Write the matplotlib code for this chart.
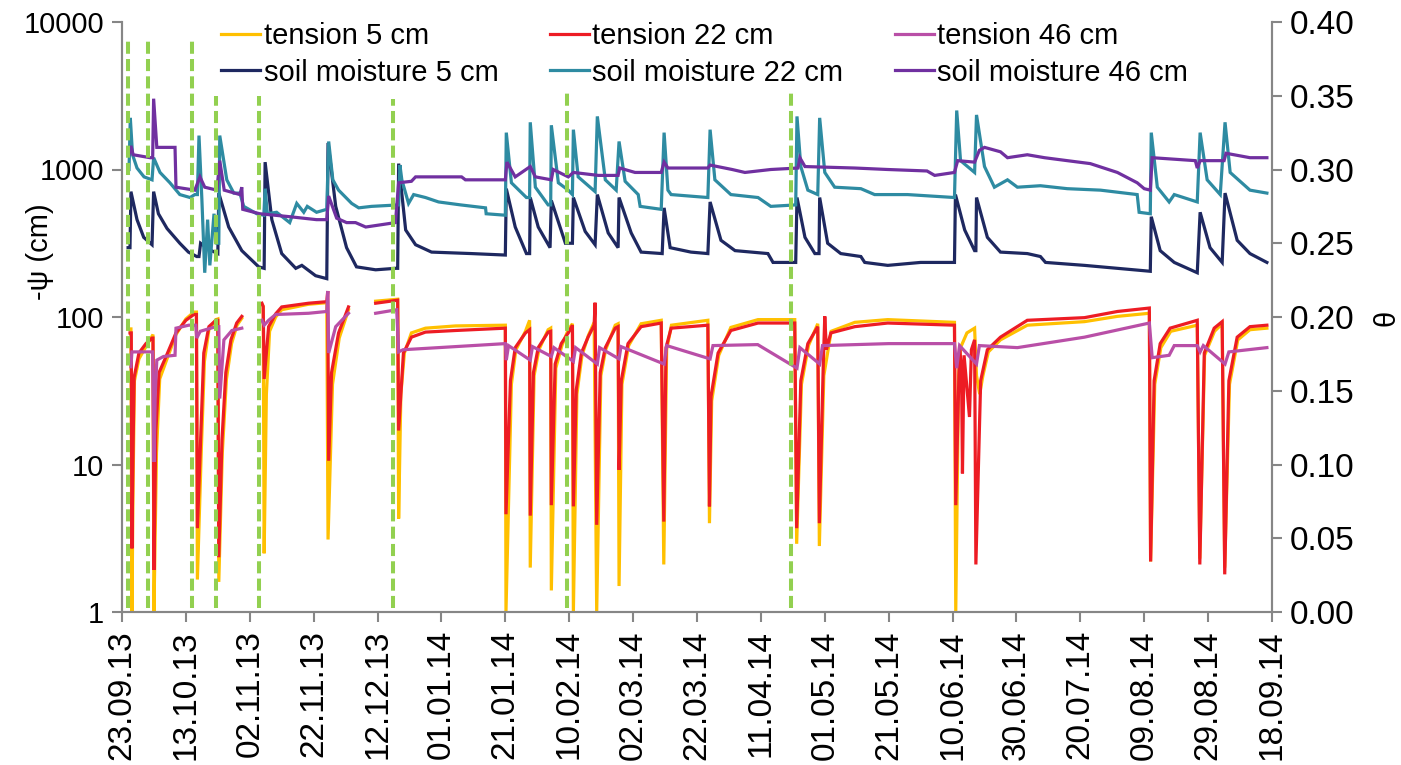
import numpy as np
import pandas as pd
import matplotlib
matplotlib.use("Agg")
import matplotlib.pyplot as plt

plt.rcParams['font.family'] = ['Liberation Sans', 'DejaVu Sans']

# day offsets counted from 23.09.13
start_date = "2013-09-23"
nan = np.nan

# soil moisture (theta), right axis
sm5 = [(1.9, 0.247), (2.5, 0.247), (2.8, 0.285), (4.7, 0.266), (6.8, 0.254), (9.4, 0.249),
       (9.9, 0.285), (11.4, 0.270), (14.1, 0.260), (18.1, 0.250), (20.8, 0.244), (23.4, 0.241),
       (24.1, 0.241), (24.6, 0.250), (27.0, 0.246), (30.0, 0.243), (30.3, 0.284), (33.4, 0.261),
       (37.5, 0.245), (42.8, 0.234), (44.5, 0.233), (44.8, 0.305), (46.9, 0.266), (50.0, 0.243),
       (54.4, 0.233), (56.3, 0.235), (60.6, 0.228), (64.1, 0.226), (64.5, 0.318), (66.9, 0.275),
       (70.3, 0.247), (73.4, 0.234), (79.4, 0.232), (85.6, 0.233), (86.3, 0.233), (86.6, 0.304),
       (88.8, 0.259), (91.9, 0.249), (96.9, 0.244), (109.4, 0.243), (120.0, 0.242), (120.3, 0.287),
       (123.1, 0.261), (126.6, 0.243), (127.6, 0.243), (127.8, 0.281), (130.3, 0.261), (134.0, 0.247),
       (134.4, 0.279), (138.8, 0.250), (141.0, 0.250), (141.3, 0.281), (145.0, 0.258), (148.1, 0.249),
       (148.8, 0.283), (152.2, 0.257), (155.3, 0.247), (155.6, 0.281), (159.4, 0.257), (162.5, 0.244),
       (169.1, 0.243), (169.7, 0.274), (171.6, 0.247), (178.1, 0.244), (183.4, 0.243), (184.1, 0.278),
       (187.5, 0.252), (191.9, 0.245), (202.2, 0.243), (203.8, 0.237), (210.9, 0.237), (211.3, 0.281),
       (213.8, 0.254), (216.9, 0.243), (218.2, 0.243), (218.4, 0.281), (220.9, 0.250), (225.0, 0.243),
       (231.3, 0.241), (232.5, 0.237), (239.7, 0.235), (250.0, 0.237), (260.6, 0.237), (260.9, 0.283),
       (263.8, 0.259), (266.9, 0.245), (267.3, 0.245), (267.5, 0.281), (270.9, 0.254), (275.0, 0.244),
       (283.4, 0.243), (287.5, 0.241), (289.1, 0.237), (301.3, 0.235), (311.6, 0.233), (321.9, 0.231),
       (322.2, 0.268), (325.0, 0.245), (329.4, 0.237), (336.6, 0.230), (337.5, 0.271), (340.6, 0.247),
       (344.4, 0.237), (345.3, 0.284), (349.1, 0.252), (353.1, 0.243), (358.4, 0.237)]

sm22 = [(2.2, 0.300), (2.6, 0.335), (3.3, 0.310), (4.7, 0.301), (6.9, 0.295), (9.4, 0.293),
        (9.9, 0.308), (11.9, 0.298), (15.0, 0.291), (18.1, 0.283), (21.3, 0.281), (22.8, 0.283),
        (23.6, 0.283), (24.1, 0.323), (25.0, 0.280), (25.9, 0.230), (26.8, 0.266), (27.5, 0.235),
        (28.8, 0.270), (29.7, 0.250), (30.3, 0.250), (30.6, 0.323), (32.8, 0.293), (35.0, 0.284),
        (36.9, 0.284), (38.1, 0.275), (42.2, 0.270), (44.4, 0.269), (44.8, 0.287), (45.5, 0.270),
        (48.4, 0.271), (52.5, 0.264), (54.7, 0.277), (56.9, 0.271), (58.0, 0.275), (60.9, 0.271),
        (64.1, 0.273), (64.7, 0.319), (66.0, 0.293), (67.8, 0.286), (71.9, 0.277), (74.1, 0.274),
        (78.1, 0.275), (86.6, 0.276), (87.0, 0.303), (87.6, 0.293), (89.7, 0.277), (91.3, 0.283),
        (95.0, 0.281), (99.1, 0.278), (106.0, 0.276), (113.8, 0.274), (114.0, 0.270), (120.0, 0.269),
        (120.3, 0.325), (121.9, 0.291), (126.6, 0.281), (127.6, 0.281), (127.8, 0.332), (129.4, 0.288),
        (133.4, 0.276), (134.2, 0.276), (134.4, 0.330), (136.6, 0.291), (139.7, 0.286), (141.0, 0.283),
        (141.3, 0.327), (142.8, 0.295), (148.1, 0.285), (148.8, 0.336), (151.3, 0.293), (154.7, 0.286),
        (155.6, 0.319), (157.5, 0.292), (161.6, 0.283), (162.2, 0.275), (168.8, 0.273), (169.7, 0.325),
        (170.9, 0.286), (171.9, 0.283), (183.4, 0.281), (184.1, 0.327), (185.6, 0.293), (190.6, 0.283),
        (199.1, 0.281), (203.1, 0.275), (210.9, 0.276), (211.3, 0.336), (212.5, 0.302), (214.7, 0.286),
        (217.8, 0.283), (218.4, 0.335), (220.0, 0.298), (223.1, 0.288), (231.3, 0.287), (235.6, 0.283),
        (245.9, 0.283), (260.6, 0.281), (261.3, 0.340), (262.5, 0.306), (266.9, 0.298), (267.5, 0.337),
        (270.0, 0.302), (273.1, 0.288), (277.2, 0.293), (280.3, 0.288), (287.5, 0.289), (295.9, 0.287),
        (306.3, 0.286), (317.8, 0.283), (318.4, 0.271), (321.9, 0.270), (322.2, 0.325), (324.1, 0.288),
        (327.8, 0.278), (329.4, 0.283), (336.6, 0.278), (337.5, 0.325), (339.7, 0.293), (343.8, 0.283),
        (345.3, 0.332), (346.9, 0.298), (353.1, 0.286), (358.4, 0.284)]

sm46 = [(2.2, 0.310), (2.8, 0.316), (3.5, 0.310), (8.8, 0.308), (9.6, 0.308), (9.9, 0.348),
        (10.9, 0.315), (16.6, 0.315), (16.9, 0.288), (22.8, 0.286), (24.4, 0.295), (25.9, 0.288),
        (29.7, 0.286), (30.6, 0.306), (32.0, 0.286), (36.9, 0.283), (37.5, 0.288), (37.8, 0.273),
        (43.1, 0.270), (52.5, 0.268), (60.9, 0.266), (64.1, 0.266), (64.7, 0.282), (67.2, 0.267),
        (70.3, 0.264), (73.1, 0.264), (76.3, 0.261), (85.6, 0.264), (86.6, 0.291), (90.6, 0.292),
        (91.9, 0.295), (106.3, 0.295), (107.5, 0.293), (120.0, 0.293), (120.5, 0.305), (123.1, 0.295),
        (127.8, 0.302), (129.4, 0.295), (134.4, 0.293), (135.0, 0.300), (139.7, 0.295), (141.3, 0.298),
        (149.1, 0.296), (155.3, 0.296), (155.8, 0.301), (160.6, 0.298), (168.8, 0.298), (169.7, 0.305),
        (170.9, 0.301), (183.4, 0.301), (184.1, 0.303), (191.0, 0.300), (195.0, 0.298), (203.1, 0.300),
        (211.6, 0.301), (212.2, 0.308), (213.8, 0.302), (229.4, 0.301), (239.7, 0.300), (252.0, 0.299),
        (254.4, 0.296), (260.6, 0.298), (261.6, 0.306), (266.9, 0.305), (268.4, 0.313), (270.0, 0.315),
        (275.0, 0.312), (277.2, 0.308), (283.4, 0.310), (288.8, 0.308), (295.9, 0.306), (303.1, 0.304),
        (311.6, 0.298), (317.8, 0.291), (320.0, 0.287), (321.9, 0.286), (322.5, 0.308), (336.0, 0.306),
        (336.6, 0.301), (337.5, 0.306), (345.0, 0.306), (345.6, 0.311), (353.1, 0.308), (358.4, 0.308)]

# tension (-psi, cm), left log axis; nan = logger gap
t5 = [(2.2, 83), (2.8, 83), (3.1, 1.0), (3.5, 8), (3.9, 37), (5.3, 52), (7.5, 63), (9.4, 74),
      (9.7, 76), (10.0, 1.0), (10.8, 12), (11.8, 38), (13.8, 50), (16.9, 76), (20.0, 97), (22.5, 108),
      (23.3, 108), (23.6, 1.66), (24.8, 12), (25.8, 50), (27.2, 82), (29.4, 96), (30.0, 97), (30.3, 1.6),
      (31.4, 12), (32.7, 38), (34.3, 66), (36.0, 88), (37.5, 98), (38.0, nan), (43.8, 122), (44.2, 118),
      (44.5, 2.5), (45.2, 30), (46.2, 80), (48.1, 100), (50.0, 112), (58.4, 122), (64.1, 125), (64.5, 3.1),
      (65.9, 35), (68.0, 72), (70.9, 112), (71.5, nan), (79.4, 128), (86.3, 132), (86.6, 4.3), (87.3, 30),
      (88.4, 57), (90.6, 78), (95.0, 84), (104.4, 87), (120.0, 88), (120.2, 1.0), (121.9, 35), (123.3, 60),
      (126.3, 80), (127.6, 95), (127.8, 2.0), (129.0, 40), (130.5, 60), (133.4, 82), (134.2, 84),
      (134.4, 1.4), (135.8, 45), (137.7, 64), (139.7, 82), (141.0, 90), (141.3, 1.0), (142.4, 30),
      (144.0, 55), (146.0, 75), (147.8, 92), (148.6, 1.0), (149.9, 40), (151.4, 60), (154.4, 88),
      (155.3, 90), (155.6, 1.5), (156.5, 35), (158.6, 64), (162.5, 90), (168.8, 95), (169.6, 2.1),
      (170.5, 60), (172.0, 88), (183.4, 95), (183.9, 4.0), (184.6, 27), (186.8, 55), (190.6, 85),
      (199.1, 96), (210.6, 96), (211.2, 2.9), (212.7, 35), (214.9, 64), (217.8, 90), (218.3, 2.8),
      (219.7, 40), (222.0, 80), (229.4, 92), (239.7, 96), (260.6, 92), (261.0, 1.0), (261.9, 40),
      (262.5, 62), (264.5, 78), (266.9, 84), (267.5, 40), (268.5, 30), (269.5, 40), (271.2, 58),
      (275.0, 70), (283.4, 88), (301.3, 93), (311.6, 101), (321.6, 106), (322.0, 2.2), (323.3, 35),
      (325.2, 62), (328.3, 80), (336.6, 88), (337.4, 2.3), (338.9, 55), (342.0, 80), (344.4, 90),
      (345.2, 2.0), (346.7, 35), (349.3, 70), (353.1, 82), (358.4, 84)]

t22 = [(2.5, 78), (2.9, 78), (3.1, 2.7), (3.5, 14.7), (3.8, 39), (5.3, 57), (7.5, 66), (9.4, 72),
       (9.7, 72), (10.0, 1.93), (10.6, 17), (11.6, 42), (13.8, 54), (16.9, 78), (20.0, 95), (22.5, 104),
       (23.3, 104), (23.6, 3.7), (24.7, 16.5), (25.6, 57), (27.2, 86), (29.4, 95), (30.0, 95), (30.3, 2.35),
       (31.3, 14.7), (32.5, 42), (34.1, 70), (35.9, 91), (37.5, 101), (38.0, nan), (43.8, 124), (44.2, 118),
       (44.5, 38), (45.9, 86), (48.1, 105), (50.0, 117), (58.4, 124), (64.1, 127), (64.4, 150), (64.7, 10.6),
       (65.6, 42), (67.8, 78), (70.9, 117), (71.5, nan), (79.4, 124), (86.3, 130), (86.6, 17), (88.1, 57),
       (90.6, 73), (95.0, 79), (104.4, 81), (120.0, 84), (120.2, 4.6), (121.6, 37), (123.1, 62),
       (126.3, 78), (127.6, 82), (127.8, 4.5), (128.8, 42), (130.3, 62), (133.4, 79), (134.2, 80),
       (134.4, 5.3), (135.6, 48), (137.5, 66), (139.7, 78), (141.0, 88), (141.3, 5.2), (142.2, 32),
       (143.8, 57), (145.9, 73), (147.8, 88), (148.1, 125), (148.6, 3.9), (149.7, 42), (151.3, 62),
       (154.4, 84), (155.3, 86), (155.6, 9.2), (156.3, 37), (158.4, 66), (162.5, 86), (168.8, 91),
       (169.6, 4.1), (170.3, 62), (171.9, 84), (183.4, 88), (183.9, 5.2), (184.4, 29), (186.6, 57),
       (190.6, 81), (199.1, 91), (210.6, 91), (211.2, 3.7), (212.5, 37), (214.7, 66), (217.8, 86),
       (218.3, 4.0), (219.5, 45), (220.0, 101), (220.5, 60), (221.9, 78), (229.4, 86), (239.7, 91),
       (260.6, 88), (261.0, 5.3), (262.2, 62), (262.8, 45), (263.1, 8.7), (263.6, 55), (265.3, 21),
       (265.9, 60), (266.9, 70), (267.3, 2.1), (268.8, 37), (270.9, 60), (275.0, 73), (283.4, 95),
       (301.3, 99), (311.6, 109), (321.6, 115), (322.0, 2.2), (323.1, 37), (325.0, 66), (328.1, 84),
       (336.6, 95), (337.4, 2.1), (338.8, 57), (341.9, 84), (344.4, 93), (345.2, 1.8), (346.5, 37),
       (349.1, 73), (353.1, 86), (358.4, 88)]

t46 = [(2.8, 46), (3.1, 58), (8.0, 58), (9.6, 58), (10.0, 10.4), (10.4, 30), (10.9, 51), (13.0, 54),
       (16.6, 55), (16.9, 84), (20.9, 88), (23.1, 88), (23.4, 72), (24.5, 80), (29.4, 86), (30.3, 86),
       (30.6, 28), (31.9, 70), (34.4, 81), (37.5, 84), (38.0, nan), (43.8, 95), (44.5, 88), (45.9, 95),
       (48.1, 104), (58.4, 106), (64.1, 109), (64.4, 150), (64.7, 57), (66.9, 86), (70.9, 106),
       (71.5, nan), (79.4, 106), (86.0, 112), (86.6, 58), (88.0, 60), (99.1, 62), (120.0, 66),
       (120.3, 51), (121.0, 64), (127.8, 51), (128.5, 63), (134.4, 54), (135.2, 62), (141.3, 50),
       (142.0, 62), (148.8, 48), (149.5, 62), (155.6, 52), (156.2, 63), (169.7, 48), (170.5, 64),
       (184.1, 52), (185.0, 64), (199.0, 65), (211.3, 45), (212.2, 62), (218.4, 48), (219.3, 64),
       (240.0, 66), (260.6, 66), (261.3, 45), (262.2, 64), (267.5, 48), (268.4, 64), (280.3, 62),
       (301.3, 73), (321.6, 91), (322.5, 53), (327.8, 55), (329.4, 64), (336.6, 64), (337.5, 58),
       (338.5, 64), (345.3, 48), (346.5, 58), (358.4, 62)]

# irrigation markers (day, top on the theta axis)
marker_days = [1.9, 8.0, 21.8, 29.4, 43.0, 84.8, 139.3, 209.3]
marker_tops = [0.388, 0.388, 0.388, 0.350, 0.350, 0.348, 0.352, 0.352]

tick_days = list(range(0, 361, 20))
tick_labels = [d.strftime("%d.%m.%y") for d in pd.date_range(start_date, periods=19, freq="20D")]

c_t5, c_t22, c_t46 = "#FFC000", "#ED1C24", "#B94FA7"
c_sm5, c_sm22, c_sm46 = "#1E2860", "#2E8BA2", "#7030A0"
grey = "#868686"
fs = 21

fig = plt.figure(figsize=(14.01, 7.65), dpi=100)
ax = fig.add_axes([122 / 1401, 1 - 612 / 765, 1150 / 1401, 590 / 765])
ax2 = ax.twinx()

lw = 2.3
handles = []
for data, col, lab in [(t5, c_t5, "tension 5 cm"), (t22, c_t22, "tension 22 cm"),
                       (t46, c_t46, "tension 46 cm")]:
    arr = np.array(data, dtype=float)
    h, = ax.plot(arr[:, 0], arr[:, 1], color=col, lw=lw, label=lab, solid_joinstyle="miter")
    handles.append(h)
for data, col, lab in [(sm5, c_sm5, "soil moisture 5 cm"), (sm22, c_sm22, "soil moisture 22 cm"),
                       (sm46, c_sm46, "soil moisture 46 cm")]:
    arr = np.array(data, dtype=float)
    h, = ax2.plot(arr[:, 0], arr[:, 1], color=col, lw=lw, label=lab, solid_joinstyle="miter")
    handles.append(h)

for d, top in zip(marker_days, marker_tops):
    ax2.plot([d, d], [0.003, top], color="#92D050", lw=2.9, dashes=(3, 1.3), zorder=5)

ax.set_yscale("log")
ax.set_ylim(1, 10000)
ax.set_xlim(0, 360)
ax.set_yticks([1, 10, 100, 1000, 10000])
ax.set_yticklabels(["1", "10", "100", "1000", "10000"])
ax.yaxis.set_minor_locator(matplotlib.ticker.NullLocator())
ax2.set_ylim(0, 0.40)
ax2.set_yticks(np.arange(0, 0.401, 0.05))
ax2.set_yticklabels(["%.2f" % v for v in np.arange(0, 0.401, 0.05)])
ax.set_xticks(tick_days)
ax.set_xticklabels(tick_labels, rotation=90)

for a in (ax, ax2):
    a.spines["top"].set_visible(False)
    for s in ("left", "right", "bottom"):
        a.spines[s].set_color(grey)
        a.spines[s].set_linewidth(1.5)
    a.tick_params(axis="both", which="major", direction="out", length=7, width=1.5,
                  color=grey, labelsize=fs, pad=6)
ax.tick_params(axis="x", labelsize=24)
ax2.tick_params(axis="y", labelsize=24)

fig.text(40 / 1401, 1 - 252 / 765, "-ψ (cm)", rotation=90, ha="center", va="center", fontsize=fs)
fig.text(1387 / 1401, 1 - 318 / 765, "θ", rotation=90, ha="center", va="center", fontsize=fs)

order = [0, 3, 1, 4, 2, 5]
fig.legend([handles[i] for i in order], [handles[i].get_label() for i in order],
           loc="upper left", bbox_to_anchor=(218 / 1401, 1 - 19 / 765), ncol=3, frameon=False,
           fontsize=fs, handlelength=1.35, handletextpad=0.12, columnspacing=1.75,
           labelspacing=0.3, borderpad=0.1, borderaxespad=0)

fig.savefig("out.png", dpi=100)
